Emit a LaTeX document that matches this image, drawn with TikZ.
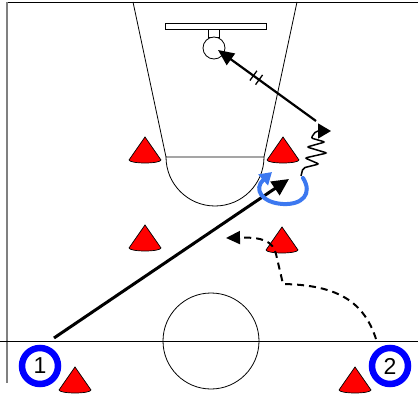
\documentclass[tikz,border=0pt]{standalone}
\usepackage{fontspec}
\setmainfont{Liberation Sans}
\usetikzlibrary{arrows.meta,decorations.markings}

\definecolor{conered}{RGB}{255,0,0}
\definecolor{playerblue}{RGB}{0,0,255}
\definecolor{pivotblue}{RGB}{60,120,240}
\definecolor{sidegray}{RGB}{128,128,128}

\tikzset{
  courtline/.style={line width=0.8pt, black},
  player/.style={circle, draw=playerblue, line width=6.5pt, fill=white,
    minimum size=36pt, inner sep=0pt, font=\fontsize{23}{23}\selectfont},
  cone/.pic={
    \path[fill=conered, draw=black, line width=0.7pt]
      (-16,0) -- (0,-23) -- (16,0)
      arc[start angle=0, end angle=180, x radius=16, y radius=3] -- cycle;
  },
  drive/.style={line width=3pt, -{Triangle[length=17pt,width=16pt]}},
  shot/.style={line width=2.2pt, -{Triangle[length=16pt,width=14pt]},
    postaction={decorate},
    decoration={markings, mark=at position 0.61 with {
      \draw[-, line width=1.3pt] (-3.5,-6) -- (-3.5,6) (3.5,-6) -- (3.5,6);}}},
  dribble/.style={line width=1.5pt, rounded corners=2pt,
    -{Triangle[length=13pt,width=15pt]}},
  pivot/.style={line width=4pt, draw=pivotblue, line cap=round,
    -{Triangle[length=12pt,width=14pt,fill=pivotblue]}},
  cut/.style={line width=2pt, dash pattern=on 7pt off 5pt,
    -{Triangle[length=14pt,width=13pt]}},
}

\begin{document}
\begin{tikzpicture}[x=1pt, y=-1pt]
\useasboundingbox (0,0) rectangle (418,396);

% half court outline
\draw[courtline] (7,2) -- (418,2);
\draw[line width=1.6pt, sidegray] (7,2) -- (7,383);
\draw[courtline] (0,341) -- (418,341);
\draw[courtline] (211,341) circle[radius=48];

% lane, free-throw line and circle
\draw[courtline] (133,2) -- (166,157) -- (264,157) -- (297,2);
\draw[courtline] (166,157) arc[start angle=180, end angle=0, radius=49];

% backboard and rim
\draw[courtline] (165,23) rectangle (266,29);
\draw[courtline] (208,29) rectangle (219,37);
\node[circle, draw, line width=0.8pt, fill=white, minimum size=22pt,
  inner sep=0pt] (rim) at (214,48) {};

% cones
\pic at (145,160) {cone};
\pic at (283,160) {cone};
\pic at (145,248) {cone};
\pic at (282,250) {cone};
\pic at (75,390) {cone};
\pic at (355,390) {cone};

% players
\node[player] (p1) at (40,366) {1};
\node[player] (p2) at (390,366) {2};

% movement end points
\coordinate (driveStart) at (54,338);
\coordinate (driveEnd) at (289,179);
\coordinate (shotSpot) at (316,121);
\coordinate (shotEnd) at (218,50);
\coordinate (cutStart) at (376,339);
\coordinate (cutCorner) at (283,284);
\coordinate (cutBend) at (276,254);
\coordinate (cutEnd) at (226,238);
\coordinate (pivotStart) at (303,178);
\coordinate (pivotEnd) at (272,172);
\coordinate (dribbleStart) at (301,176);
\coordinate (dribbleEnd) at (331,131);

% drive from player 1
\draw[drive] (driveStart) -- (driveEnd);

% reverse pivot
\draw[pivot] (pivotStart) .. controls (313,194) and (302,205) .. (283,204)
  .. controls (262,203) and (253,189) .. (pivotEnd);

% dribble up to the shooting spot
\draw[dribble] (dribbleStart) -- (303,168) -- (319,164) -- (305,158)
  -- (327,153) -- (307,147) -- (325,142) -- (311,138) -- (316,131)
  -- (dribbleEnd);

% shot at the rim
\draw[shot] (shotSpot) -- (shotEnd);

% cut of player 2
\draw[cut] (cutStart) .. controls (364,302) and (338,285) .. (cutCorner)
  -- (cutBend) .. controls (273,241) and (262,237) .. (cutEnd);
\end{tikzpicture}
\end{document}
